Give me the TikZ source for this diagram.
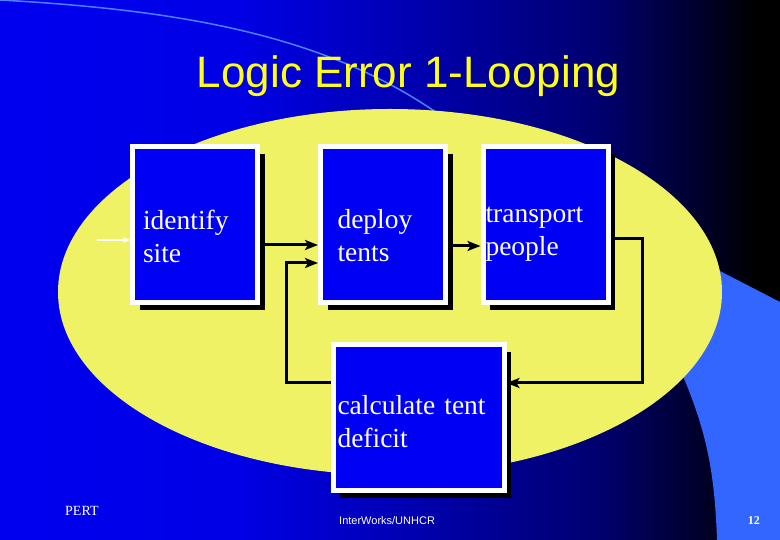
\documentclass[tikz,border=0pt]{standalone}
\usepackage{fontspec}
\setmainfont{Liberation Serif}
\newfontfamily\slideSans{Liberation Sans}
\usetikzlibrary{
  arrows.meta,
  positioning,
  shadows
}
\definecolor{slideBlue}{rgb}{0,0,0.94}
\definecolor{royalBlue}{rgb}{0,0,0.9}
\definecolor{deepBlue}{rgb}{0,0,0.72}
\definecolor{navyBlue}{rgb}{0,0,0.43}
\definecolor{nightBlue}{rgb}{0,0,0.16}
\definecolor{boxBlue}{rgb}{0,0,0.96}
\definecolor{paleYellow}{rgb}{0.94,0.95,0.4}
\definecolor{titleYellow}{rgb}{1,1,0.1}
\definecolor{swooshBlue}{rgb}{0.2,0.4,1}
\definecolor{arcBlue}{rgb}{0.3,0.5,1}
\pgfdeclarehorizontalshading{slideShade}{100bp}{%
  color(0bp)=(slideBlue); color(25bp)=(slideBlue);
  color(40bp)=(royalBlue); color(50bp)=(deepBlue);
  color(63.5bp)=(navyBlue); color(70bp)=(nightBlue);
  color(73.5bp)=(black); color(100bp)=(black)}
\tikzset{
  stepBox/.style={
    draw=white,
    line width=5pt,
    fill=boxBlue,
    text=white,
    minimum width=125pt,
    minimum height=156pt,
    inner xsep=0pt,
    inner ysep=0pt,
    align=left,
    text depth=40pt,
    font=\fontsize{27.5}{32.5}\selectfont,
    drop shadow={shadow xshift=7pt, shadow yshift=-7.5pt, fill=black, opacity=1}
  }
}
\tikzset{
  flow/.style={
    draw=black,
    line width=3pt,
    ->
  }
}
\tikzset{
  entry/.style={
    draw=white,
    line width=1.5pt,
    -{Stealth[length=7pt, width=6pt]}
  }
}
\tikzset{
  footNote/.style={
    text=white,
    inner sep=0pt,
    anchor=base west
  }
}

\begin{document}
\begin{tikzpicture}[x=1pt, y=1pt, >={Stealth[length=13pt, width=10pt, inset=3pt]}]
    \useasboundingbox (0,0) rectangle (780,540);
    \fill[shading=slideShade] (0,0) rectangle (780,540);
    \draw[arcBlue, line width=1.5pt]
    (0,540) .. controls (180,530) and (340,505) .. (460,410);
    \fill[swooshBlue]
    (717,0) .. controls (714,90) and (700,130) .. (660,215)
    -- (650,305) -- (780,238) -- (780,0) -- cycle;
    \fill[paleYellow] (390,248) ellipse [x radius=332, y radius=183];

    \node[text=titleYellow, font=\slideSans\fontsize{44}{50}\selectfont, anchor=base]
      (title) at (408.5,452) {Logic Error 1-Looping};

    \node[stepBox, text width=104pt, text height=51pt]
      (identify) at (195,315.5) {identify\\site};
    \node[stepBox, text width=91pt, text height=49pt, right=58pt of identify]
      (deploy) {deploy\\tents};
    \node[stepBox, text width=120pt, text height=37pt, right=32.5pt of deploy]
      (transport) {transport\\people};
    \node[stepBox, text width=162pt, text height=35pt, minimum width=171pt,
      minimum height=146pt, below=37pt of deploy, xshift=35.5pt]
      (deficit) {calculate tent\\deficit};

    \coordinate (entryStart) at (97,300);
    \draw[entry] (entryStart) -- (entryStart -| identify.west);
    \foreach \src/\dst/\dy in {identify/deploy/-20.5, deploy/transport/-21.5}{
      \draw[flow]
      ([yshift=\dy pt]\src.east) -- ([yshift=\dy pt]\dst.west);
    }
    \draw[flow]
    ([yshift=-14.5pt]transport.east) -- ++(32pt,0)
    |- ([yshift=34.5pt]deficit.east);
    \draw[flow]
    ([yshift=34.5pt]deficit.west) -- ++(-44pt,0)
    |- ([yshift=-38.5pt]deploy.west);

    \node[footNote, font=\fontsize{14}{16}\selectfont] (pert) at (65,24) {PERT};
    \node[footNote, font=\slideSans\fontsize{11}{13}\selectfont]
      (credit) at (339,15) {InterWorks/UNHCR};
    \node[footNote, anchor=base east, font=\bfseries\fontsize{12}{14}\selectfont]
      (pageNum) at (760,15) {12};
  \end{tikzpicture}
\end{document}
